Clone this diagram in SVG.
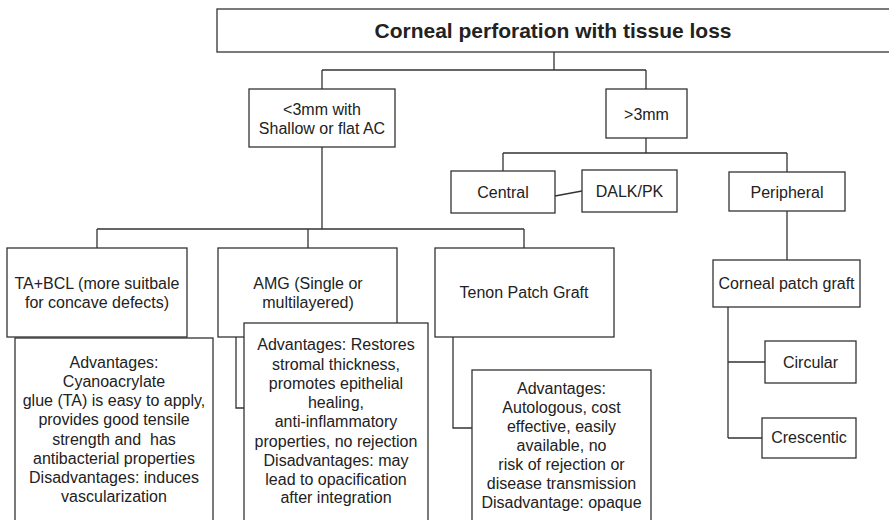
<svg xmlns="http://www.w3.org/2000/svg" width="889" height="520" viewBox="0 0 889 520">
<style>
.b{fill:#fff;stroke:#333;stroke-width:1.3}
.c{fill:none;stroke:#333;stroke-width:1.3}
.t{font-family:"Liberation Sans",Arial,sans-serif;font-size:16px;fill:#222;text-anchor:middle}
.h{font-family:"Liberation Sans",Arial,sans-serif;font-size:21px;font-weight:bold;fill:#222;text-anchor:middle}
</style>
<rect width="889" height="520" fill="#fff"/>
<g id="connectors">
<path class="c" d="M554 52V70M322 70H646M322 70V89M646 70V89"/>
<path class="c" d="M646 138V153M503 153H787M503 153V171M787 153V172"/>
<path class="c" d="M555 196L582 191"/>
<path class="c" d="M322 147V229" stroke-width="2"/>
<path class="c" d="M97 229H524M97 229V248M308 229V248M524 229V248"/>
<path class="c" d="M236 337V408H244"/>
<path class="c" d="M453 337V428H472"/>
<path class="c" d="M787 211V260"/>
<path class="c" d="M728 307V438M728 362H765M728 438H762" stroke-width="1.6"/>
</g>
<g id="title"><rect class="b" x="217" y="9" width="680" height="43"/><text class="h" x="553" y="37.5">Corneal perforation with tissue loss</text></g>
<g id="lt3"><rect class="b" x="249" y="89" width="146" height="58"/><text class="t" x="322" y="114.5">&lt;3mm with</text><text class="t" x="322" y="133.5">Shallow or flat AC</text></g>
<g id="gt3"><rect class="b" x="606" y="89" width="81" height="49"/><text class="t" x="646.5" y="119.5">&gt;3mm</text></g>
<g id="central"><rect class="b" x="451" y="171" width="104" height="42"/><text class="t" x="503" y="197.5">Central</text></g>
<g id="dalk"><rect class="b" x="582" y="170" width="95" height="42"/><text class="t" x="629.5" y="196.5">DALK/PK</text></g>
<g id="peripheral"><rect class="b" x="729" y="172" width="116" height="39"/><text class="t" x="787" y="197.5">Peripheral</text></g>
<g id="tabcl"><rect class="b" x="7" y="248" width="180" height="89"/><text class="t" x="97" y="288.5">TA+BCL (more suitbale</text><text class="t" x="97" y="307.5">for concave defects)</text></g>
<g id="amg"><rect class="b" x="218" y="248" width="179" height="89"/><text class="t" x="308" y="288.5">AMG (Single or</text><text class="t" x="308" y="307.5">multilayered)</text></g>
<g id="tenon"><rect class="b" x="435" y="248" width="179" height="89"/><text class="t" x="524" y="297.5">Tenon Patch Graft</text></g>
<g id="cpg"><rect class="b" x="713" y="260" width="147" height="47"/><text class="t" x="786.5" y="288.5">Corneal patch graft</text></g>
<g id="circular"><rect class="b" x="765" y="341" width="91" height="42"/><text class="t" x="810.5" y="367.5">Circular</text></g>
<g id="crescentic"><rect class="b" x="762" y="418" width="94" height="40"/><text class="t" x="809" y="442.5">Crescentic</text></g>
<g id="ta-adv"><rect class="b" x="15" y="338" width="198" height="184"/>
<text class="t" x="114"><tspan x="114" y="367.5">Advantages:</tspan><tspan x="114" y="386.5">Cyanoacrylate</tspan><tspan x="114" y="406">glue (TA) is easy to apply,</tspan><tspan x="114" y="425">provides good tensile</tspan><tspan x="114" y="444.5" xml:space="preserve">strength and  has</tspan><tspan x="114" y="463.5">antibacterial properties</tspan><tspan x="114" y="482.5">Disadvantages: induces</tspan><tspan x="114" y="501.5">vascularization</tspan></text></g>
<g id="amg-adv"><rect class="b" x="244" y="323" width="184" height="199"/>
<text class="t" x="336"><tspan x="336" y="349.5">Advantages: Restores</tspan><tspan x="336" y="369.5">stromal thickness,</tspan><tspan x="336" y="388.5">promotes epithelial</tspan><tspan x="336" y="407.5">healing,</tspan><tspan x="336" y="426.5">anti-inflammatory</tspan><tspan x="336" y="446.5">properties, no rejection</tspan><tspan x="336" y="465.5">Disadvantages: may</tspan><tspan x="336" y="484.5">lead to opacification</tspan><tspan x="336" y="502.5">after integration</tspan></text></g>
<g id="tenon-adv"><rect class="b" x="472" y="370" width="179" height="152"/>
<text class="t" x="561.5"><tspan x="561.5" y="393.5">Advantages:</tspan><tspan x="561.5" y="412.5">Autologous, cost</tspan><tspan x="561.5" y="431.5">effective, easily</tspan><tspan x="561.5" y="450.5">available, no</tspan><tspan x="561.5" y="469.5">risk of rejection or</tspan><tspan x="561.5" y="488.5">disease transmission</tspan><tspan x="561.5" y="507.5">Disadvantage: opaque</tspan></text></g>
</svg>
